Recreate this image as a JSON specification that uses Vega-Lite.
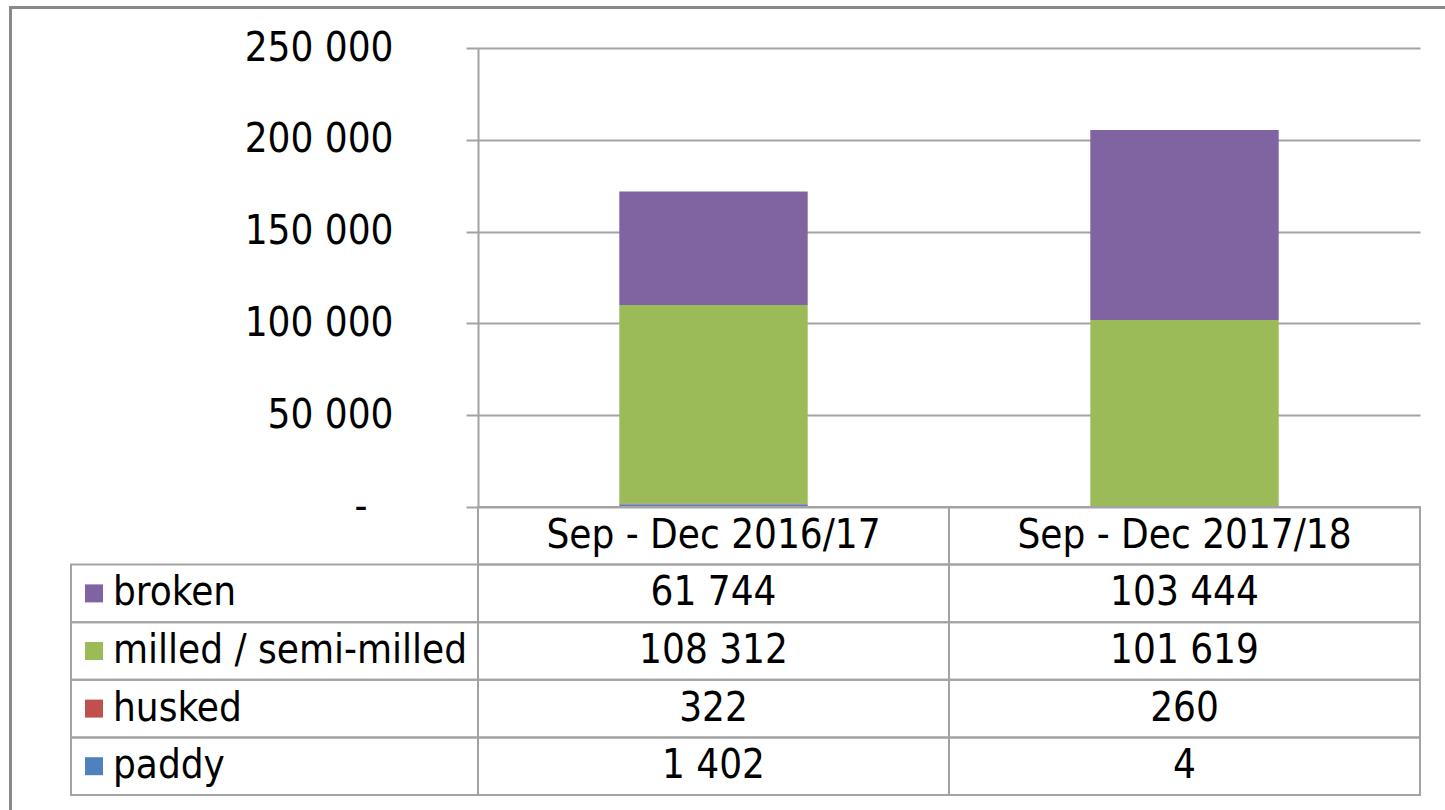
{
  "$schema": "https://vega.github.io/schema/vega-lite/v6.json",
  "padding": {"left": 9, "top": 6, "right": 0, "bottom": 0},
  "background": "white",
  "config": {
    "font": "DejaVu Sans Condensed",
    "view": {"stroke": null},
    "text": {"font": "DejaVu Sans Condensed", "fontSize": 40, "color": "#000000"}
  },
  "datasets": {
    "rice": [
      {"period": "Sep - Dec 2016/17", "type": "broken", "value": 61744, "rank": 4},
      {"period": "Sep - Dec 2016/17", "type": "milled / semi-milled", "value": 108312, "rank": 3},
      {"period": "Sep - Dec 2016/17", "type": "husked", "value": 322, "rank": 2},
      {"period": "Sep - Dec 2016/17", "type": "paddy", "value": 1402, "rank": 1},
      {"period": "Sep - Dec 2017/18", "type": "broken", "value": 103444, "rank": 4},
      {"period": "Sep - Dec 2017/18", "type": "milled / semi-milled", "value": 101619, "rank": 3},
      {"period": "Sep - Dec 2017/18", "type": "husked", "value": 260, "rank": 2},
      {"period": "Sep - Dec 2017/18", "type": "paddy", "value": 4, "rank": 1}
    ],
    "periods": [
      {"period": "Sep - Dec 2016/17"},
      {"period": "Sep - Dec 2017/18"}
    ]
  },
  "bounds": "flush",
  "spacing": 0,
  "resolve": {"scale": {"x": "independent", "y": "independent"}},
  "vconcat": [
    {
      "width": 1440,
      "height": 3,
      "data": {"values": []},
      "mark": "point",
      "encoding": {},
      "view": {"fill": "#898989", "stroke": null}
    },
    {
      "bounds": "flush",
      "spacing": 0,
      "resolve": {"scale": {"x": "independent", "y": "independent"}},
      "hconcat": [
        {
          "width": 3,
          "height": 805,
          "data": {"values": []},
          "mark": "point",
          "encoding": {},
          "view": {"fill": "#898989", "stroke": null}
        },
        {
          "width": 59,
          "height": 10,
          "data": {"values": []},
          "mark": "point",
          "encoding": {}
        },
        {
          "bounds": "flush",
          "spacing": 0,
          "columns": 2,
          "resolve": {"scale": {"x": "independent", "y": "independent"}},
          "concat": [
            {
              "width": 407,
              "height": 39,
              "data": {"values": []},
              "mark": "point",
              "encoding": {}
            },
            {
              "width": 942,
              "height": 39,
              "data": {"values": []},
              "mark": "point",
              "encoding": {}
            },
            {
              "width": 407,
              "height": 459,
              "data": {"values": []},
              "mark": "point",
              "encoding": {}
            },
            {
              "width": 942,
              "height": 459,
              "data": {"name": "rice"},
              "mark": {"type": "bar"},
              "encoding": {
                "x": {
                  "field": "period",
                  "type": "nominal",
                  "scale": {"domain": ["Sep - Dec 2016/17", "Sep - Dec 2017/18"], "paddingInner": 0.6, "paddingOuter": 0.3},
                  "axis": null
                },
                "y": {
                  "field": "value",
                  "type": "quantitative",
                  "stack": "zero",
                  "scale": {"domain": [0, 250000], "nice": false},
                  "axis": {
                    "values": [0, 50000, 100000, 150000, 200000, 250000],
                    "labelExpr": "datum.value === 0 ? '-' : replace(format(datum.value, ','), ',', ' ')",
                    "title": null,
                    "grid": true,
                    "gridColor": "#a3a3a3",
                    "gridWidth": 2,
                    "domainColor": "#a3a3a3",
                    "domainWidth": 2,
                    "tickColor": "#a3a3a3",
                    "tickWidth": 2,
                    "tickSize": 12,
                    "labelFont": "DejaVu Sans Condensed",
                    "labelFontSize": 40,
                    "labelColor": "#000000",
                    "labelPadding": {"condition": {"test": "datum.value === 0", "value": 99}, "value": 73}
                  }
                },
                "color": {
                  "field": "type",
                  "type": "nominal",
                  "scale": {"domain": ["broken", "milled / semi-milled", "husked", "paddy"], "range": ["#8064A2", "#9BBB59", "#C0504D", "#4F81BD"]},
                  "legend": null
                },
                "order": {"field": "rank", "type": "quantitative"}
              }
            },
            {
              "width": 407,
              "height": 288,
              "data": {"name": "rice"},
              "transform": [{"filter": "datum.period === 'Sep - Dec 2016/17'"}],
              "encoding": {
                "y": {
                  "field": "type",
                  "type": "nominal",
                  "scale": {"domain": ["header", "broken", "milled / semi-milled", "husked", "paddy"], "paddingInner": 0, "paddingOuter": 0},
                  "axis": null
                }
              },
              "layer": [
                {
                  "mark": {"type": "rect", "fill": "transparent", "stroke": "#a3a3a3", "strokeWidth": 2},
                  "encoding": {
                    "x": {"datum": "label", "type": "nominal", "scale": {"paddingInner": 0, "paddingOuter": 0}, "axis": null}
                  }
                },
                {
                  "mark": {"type": "point", "shape": "square", "filled": true, "size": 324, "opacity": 1, "xOffset": 23},
                  "encoding": {
                    "x": {"datum": "label", "type": "nominal", "bandPosition": 0, "axis": null},
                    "color": {
                      "field": "type",
                      "type": "nominal",
                      "scale": {"domain": ["broken", "milled / semi-milled", "husked", "paddy"], "range": ["#8064A2", "#9BBB59", "#C0504D", "#4F81BD"]},
                      "legend": null
                    }
                  }
                },
                {
                  "mark": {"type": "text", "align": "left", "dx": 42, "baseline": "middle"},
                  "encoding": {
                    "x": {"datum": "label", "type": "nominal", "bandPosition": 0, "axis": null},
                    "text": {"field": "type", "type": "nominal"}
                  }
                }
              ]
            },
            {
              "width": 942,
              "height": 288,
              "layer": [
                {
                  "data": {"name": "rice"},
                  "mark": {"type": "rect", "fill": "transparent", "stroke": "#a3a3a3", "strokeWidth": 2},
                  "encoding": {
                    "x": {"field": "period", "type": "nominal", "scale": {"domain": ["Sep - Dec 2016/17", "Sep - Dec 2017/18"], "paddingInner": 0, "paddingOuter": 0}, "axis": null},
                    "y": {"field": "type", "type": "nominal", "scale": {"domain": ["header", "broken", "milled / semi-milled", "husked", "paddy"], "paddingInner": 0, "paddingOuter": 0}, "axis": null}
                  }
                },
                {
                  "data": {"name": "periods"},
                  "mark": {"type": "rect", "fill": "transparent", "stroke": "#a3a3a3", "strokeWidth": 2},
                  "encoding": {
                    "x": {"field": "period", "type": "nominal", "axis": null},
                    "y": {"datum": "header", "type": "nominal", "axis": null}
                  }
                },
                {
                  "data": {"name": "rice"},
                  "transform": [{"calculate": "replace(format(datum.value, ','), ',', ' ')", "as": "label"}],
                  "mark": {"type": "text", "baseline": "middle"},
                  "encoding": {
                    "x": {"field": "period", "type": "nominal", "axis": null},
                    "y": {"field": "type", "type": "nominal", "axis": null},
                    "text": {"field": "label", "type": "nominal"}
                  }
                },
                {
                  "data": {"name": "periods"},
                  "mark": {"type": "text", "baseline": "middle"},
                  "encoding": {
                    "x": {"field": "period", "type": "nominal", "axis": null},
                    "y": {"datum": "header", "type": "nominal", "axis": null},
                    "text": {"field": "period", "type": "nominal"}
                  }
                }
              ]
            }
          ]
        }
      ]
    }
  ]
}
